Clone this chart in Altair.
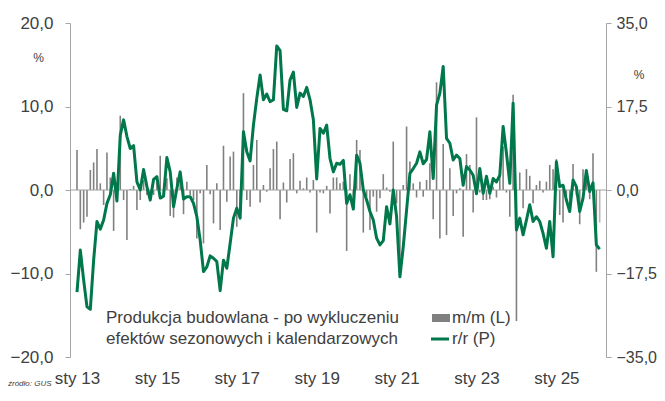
import altair as alt
import pandas as pd

# m/m (left axis, %), monthly from Jan 2013
mm = [4.8, -4.7, -3.9, -3.2, 2.4, 3.3, 4.9, 0.8, -1.8, 4.5, 1.5, -4.9,
      -0.8, 8.9, -1.2, -6.0, 0.1, 0.5, -2.4, -1.2, 1.2, -0.6, -0.8, -0.6,
      1.6, 4.1, -0.8, 1.4, -3.1, -3.3, 1.5, 2.2, -2.9, 1.0, -0.6, -1.2,
      -5.8, -0.4, -6.4, 3.0, -0.5, -4.0, 0.8, -4.8, 5.3, -1.4, 4.0, 4.6,
      -4.4, -3.5, 11.6, -1.2, -2.0, 3.0, 6.0, -1.5, 0.6, -0.2, 2.6, 4.9,
      5.8, -3.5, 0.9, -1.5, 3.7, 4.4, -0.4, 1.1, 0.2, 1.5, -0.3, 1.2,
      -5.1, -0.3, -0.4, 0.5, -2.8, 1.5, 1.5, 0.8, 1.0, -7.3, 1.9, -1.2,
      6.0, 4.8, -5.1, -0.8, -4.8, -0.8, -2.6, -1.0, 1.9, 0.3, -0.2, 5.8,
      -1.6, -8.0, 0.6, 7.6, 3.4, 0.8, -0.9, 1.0, -0.8, 1.2, 3.2, -3.5,
      12.9, -5.8, 5.5, -5.4, 2.6, -3.1, -0.4, 0.2, -5.6, 4.3, 3.0, -2.7,
      8.7, -0.3, -1.2, -1.2, -1.1, 0.4, -0.9, 2.8, 5.2, -0.3, -3.2, 11.4,
      -15.7, 2.1, -2.2, 2.5, 1.7, -1.6, 0.6, 1.1, -0.3, 1.0, 3.0, 2.5,
      3.7, -3.0, -3.9, -0.8, -1.7, 3.1, -0.6, -4.1, 2.5, 2.4, -1.1, 4.4,
      -9.8, -3.9]

# r/r (right axis, %)
rr = [-21.4, -12.6, -18.9, -24.5, -25.0, -14.7, -6.6, -8.2, -6.3, -2.8, -1.0, 3.5,
      -2.3, 11.5, 14.7, 11.2, 8.7, 9.3, 1.7, 0.0, 4.3, 0.7, -2.1, 2.2,
      2.8, -1.7, -1.3, 6.8, 3.8, -3.5, 0.3, 3.8, -1.9, -1.4, -1.4, -2.8,
      -5.6, -10.5, -17.1, -16.1, -13.8, -14.3, -15.0, -21.1, -14.7, -16.4, -11.2, -5.9,
      -3.8, -5.9, 12.2, 8.0, 6.1, 13.6, 19.2, 24.1, 18.9, 20.1, 18.5, 18.9,
      30.2, 29.2, 16.9, 16.6, 23.1, 24.7, 17.3, 20.3, 19.6, 21.5, 18.9, 14.7,
      2.3, 12.9, 11.9, 13.6, 6.6, 3.8, 5.6, 5.4, 6.2, -2.8, -1.0, -4.0,
      7.3, 5.6, 0.0, -2.1, -4.5, -6.3, -10.1, -11.5, -10.6, -3.5, -7.1, 0.0,
      -5.6, -18.2, -11.9, -4.2, 3.5, 4.5, 5.6, 8.0, 5.5, 6.4, 12.2, 2.4,
      17.8, 20.3, 25.9, 10.8, 9.8, 6.3, 7.3, 6.6, 1.0, 4.9, 4.2, 3.1,
      -0.8, 4.5, -0.7, 2.9, -0.7, 2.4, 1.7, 3.1, 13.3, 7.7, 1.4, 18.2,
      -8.4, -5.9, -9.4, -6.3, -3.1, -6.6, -5.6, -6.6, -9.1, -12.2, -6.6, -14.0,
      5.9, 0.7, 1.0, -2.1, -4.5, 2.1, 0.7, -4.5, -1.7, 4.1, -0.3, 1.5,
      -11.5, -12.4]

tick_labels = ["sty 13", "sty 15", "sty 17", "sty 19", "sty 21", "sty 23", "sty 25"]
left_ticks = [-20, -10, 0, 10, 20]
right_ticks = [-35, -17.5, 0, 17.5, 35]

n = len(mm)
df = pd.DataFrame({"i": list(range(n)), "mm": mm, "rr": rr})
df["last"] = df["i"] == n - 1

FONT = "Liberation Sans"
TXT = "#404040"
GREEN = "#00784B"
W, H = 536, 334

lab_expr = "[" + ",".join("'%s'" % t for t in tick_labels) + "][round(datum.value/24)]"
num_expr = "replace(format(datum.value, '.1f'), '.', ',')"

x_enc = alt.X("i:Q",
              scale=alt.Scale(domain=[-0.6, n - 0.6], nice=False, zero=False),
              axis=alt.Axis(values=[24 * k for k in range(len(tick_labels))],
                            labelExpr=lab_expr, domain=False, ticks=False,
                            labelPadding=13, title=None, labelFlush=False,
                            labelFont=FONT, labelFontSize=17, labelColor=TXT))

base = alt.Chart(df)

bars = base.mark_bar(size=1.6).encode(
    x=x_enc,
    y=alt.Y("mm:Q", scale=alt.Scale(domain=[-20, 20], nice=False),
            axis=alt.Axis(values=left_ticks, labelExpr=num_expr, title=None,
                          tickSize=5, labelPadding=12, orient="left",
                          labelFont=FONT, labelFontSize=17, labelColor=TXT,
                          domainColor="#a6a6a6", tickColor="#a6a6a6")),
    y2=alt.datum(0),
    color=alt.condition("datum.last", alt.value("#b5b5b5"), alt.value("#808080")),
)

zero = base.mark_rule(color="#a0a0a0", strokeWidth=1).encode(
    x=alt.value(0), x2=alt.value(W), y=alt.datum(0)
).transform_filter("datum.i == 0")

texts_df = pd.DataFrame({"t": [0]})
tb = alt.Chart(texts_df)

def txt(s, x, y, size=17, align="left", style="normal", baseline="middle"):
    return tb.mark_text(align=align, baseline=baseline, font=FONT, fontSize=size,
                        color=TXT, fontStyle=style).encode(
        x=alt.value(x), y=alt.value(y), text=alt.value(s))

leg1 = txt("Produkcja budowlana - po wykluczeniu", 36, 295)
leg2 = txt("efektów sezonowych i kalendarzowych", 36, 316)
leg3 = txt("m/m (L)", 382, 295)
leg4 = txt("r/r (P)", 382, 316)
sq = tb.mark_rect(color="#808080").encode(
    x=alt.value(362), x2=alt.value(380), y=alt.value(291), y2=alt.value(299))
ln = tb.mark_rule(color=GREEN, strokeWidth=3).encode(
    x=alt.value(361), x2=alt.value(379), y=alt.value(316))
pl = txt("%", -31.5, 35, size=12, align="center")
pr = txt("%", 569, 52, size=12, align="center")
src = txt("źródło: GUS", -62, 365, size=8, style="italic", baseline="bottom")

line = base.mark_line(color=GREEN, strokeWidth=3, strokeJoin="round").encode(
    x=x_enc,
    y=alt.Y("rr:Q", scale=alt.Scale(domain=[-35, 35], nice=False),
            axis=alt.Axis(values=right_ticks, labelExpr=num_expr, title=None,
                          tickSize=5, labelPadding=5, orient="right",
                          labelFont=FONT, labelFontSize=16, labelColor=TXT,
                          domainColor="#a6a6a6", tickColor="#a6a6a6")),
)

left_group = alt.layer(bars, zero, leg1, leg2, leg3, leg4, sq, ln, pl, pr, src)

chart = alt.layer(left_group, line).resolve_scale(y="independent").properties(
    width=W, height=H,
    background="white",
    autosize=alt.AutoSizeParams(type="none"),
    padding={"left": 62, "top": 15, "right": 51, "bottom": 31},
).configure_view(stroke=None).configure_axis(grid=False)

chart.save("out.html", embed_options={"renderer": "svg", "actions": False})
